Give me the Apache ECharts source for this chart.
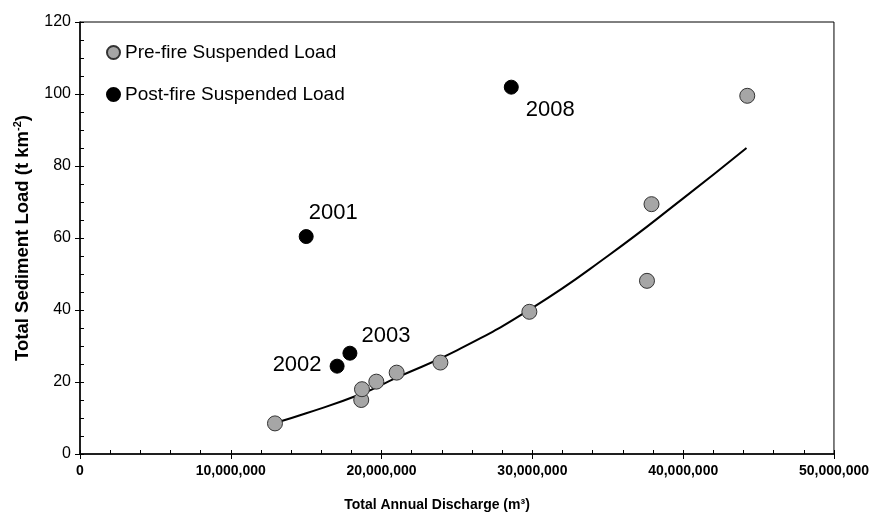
<!DOCTYPE html>
<html>
<head>
<meta charset="utf-8">
<script src="https://cdn.jsdelivr.net/npm/echarts@6/dist/echarts.min.js"></script>
<style>
  html, body { margin: 0; padding: 0; background: #fff; }
  #chart { width: 872px; height: 519px; }
</style>
</head>
<body>
<div id="chart"></div>
<script>
// 火灾前后悬移质负荷与年径流量散点图。
const preDischarge = [12.93e6, 18.65e6, 18.7e6, 19.65e6, 21.0e6, 23.9e6, 29.8e6, 37.6e6, 37.9e6, 44.25e6];
const preLoad = [8.5, 15.0, 18.0, 20.1, 22.6, 25.4, 39.5, 48.1, 69.4, 99.5];

const postYears = ["2001", "2002", "2003", "2008"];
const postDischarge = [15.0e6, 17.05e6, 17.9e6, 28.6e6];
const postLoad = [60.4, 24.4, 28.0, 101.9];

// 趋势线上读出的点。
const trendDischarge = [12.93e6, 15e6, 18.6e6, 21e6, 25e6, 30e6, 35e6, 40e6, 44.2e6];
const trendLoad = [8.6, 11.3, 16.6, 21.2, 28.8, 40.6, 55, 71, 85];

const xTickLabels = ["0", "10,000,000", "20,000,000", "30,000,000", "40,000,000", "50,000,000"];
const yTickLabels = ["0", "20", "40", "60", "80", "100", "120"];

// 年份标签相对于点的偏移。
const yearLabelOffset = { "2001": [27, -24], "2002": [-40, -1], "2003": [36, -17], "2008": [39, 23] };

const font = "'Liberation Sans', Arial, sans-serif";
const chart = echarts.init(document.getElementById("chart"));

const grid = { left: 80, right: 36, top: 22, bottom: 65, show: true, borderColor: "#000", borderWidth: 1 };

chart.setOption({
    animation: false,
    backgroundColor: "#fff",
    grid,
    legend: {
        orient: "vertical",
        left: 101,
        top: 38,
        itemGap: 23,
        itemWidth: 13,
        itemHeight: 13,
        textStyle: { fontFamily: font, fontSize: 19, color: "#000" },
        data: ["Pre-fire Suspended Load", "Post-fire Suspended Load"]
    },
    xAxis: [{
        type: "value", min: 0, max: 50e6, interval: 10e6,
        axisLine: { lineStyle: { color: "#000", width: 1.5 } },
        axisTick: { length: 5, lineStyle: { color: "#000" } },
        splitLine: { show: false },
        axisLabel: {
            fontFamily: font, fontSize: 14, fontWeight: "bold", color: "#000", margin: 10,
            formatter: v => xTickLabels[Math.round(v / 10e6)]
        },
        name: "Total Annual Discharge (m³)",
        nameLocation: "middle",
        nameGap: 44,
        nameTextStyle: { fontFamily: font, fontSize: 14, fontWeight: "bold", color: "#000", padding: [0, 40, 0, 0] }
    }, {
        type: "value", min: 0, max: 50e6, interval: 2e6, position: "bottom",
        axisLine: { show: false },
        axisTick: { inside: true, length: 4, lineStyle: { color: "#000" } },
        axisLabel: { show: false },
        splitLine: { show: false }
    }],
    yAxis: [{
        type: "value", min: 0, max: 120, interval: 20,
        axisLine: { show: true, lineStyle: { color: "#000", width: 1.5 } },
        axisTick: { show: true, length: 5, lineStyle: { color: "#000" } },
        splitLine: { show: false },
        axisLabel: {
            fontFamily: font, fontSize: 16, color: "#000", margin: 9,
            formatter: v => yTickLabels[Math.round(v / 20)]
        },
        name: "{a|Total Sediment Load (t km}{s|-2}{a|)}",
        nameLocation: "middle",
        nameGap: 46,
        nameTextStyle: {
            rich: {
                a: { fontFamily: font, fontSize: 18.5, fontWeight: "bold", color: "#000", lineHeight: 22 },
                s: { fontFamily: font, fontSize: 11, fontWeight: "bold", color: "#000", padding: [0, 0, 10, 0] }
            }
        }
    }, {
        type: "value", min: 0, max: 120, interval: 5, position: "left",
        axisLine: { show: false },
        axisTick: { show: true, inside: true, length: 4, lineStyle: { color: "#000" } },
        axisLabel: { show: false },
        splitLine: { show: false }
    }],
    series: [{
        name: "trend",
        type: "line",
        smooth: true,
        showSymbol: false,
        silent: true,
        lineStyle: { color: "#000", width: 2 },
        data: trendDischarge.map((x, i) => [x, trendLoad[i]]),
        z: 2
    }, {
        name: "Pre-fire Suspended Load",
        type: "scatter",
        symbolSize: 15,
        itemStyle: { color: "#a6a6a6", borderColor: "#333", borderWidth: 1, opacity: 1 },
        data: preDischarge.map((x, i) => [x, preLoad[i]]),
        z: 3
    }, {
        name: "Post-fire Suspended Load",
        type: "scatter",
        symbolSize: 14,
        itemStyle: { color: "#000", borderColor: "#000", borderWidth: 1, opacity: 1 },
        data: postDischarge.map((x, i) => ({
            value: [x, postLoad[i]],
            label: {
                show: true,
                formatter: postYears[i],
                position: "inside",
                offset: yearLabelOffset[postYears[i]],
                fontFamily: font,
                fontSize: 22,
                color: "#000",
                opacity: 1,
                textBorderWidth: 0
            }
        })),
        z: 4
    }]
});
</script>
</body>
</html>
